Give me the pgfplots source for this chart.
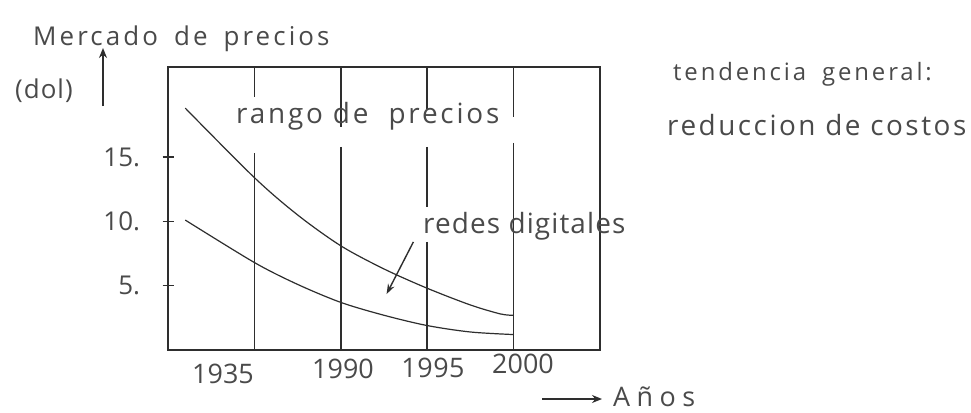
\documentclass[border=0pt]{standalone}
\usepackage{fontspec}
\setmainfont{Open Sans}
\usepackage{pgfplots}
\pgfplotsset{compat=1.18}
\usetikzlibrary{arrows.meta}
\definecolor{txt}{HTML}{4A4A4A}
\definecolor{ink}{HTML}{2E2E2E}
\newcommand{\fs}[2]{\fontsize{#1}{#1}\selectfont\addfontfeature{LetterSpace=#2}}
\begin{document}
\begin{tikzpicture}[x=1bp,y=1bp]
\useasboundingbox (0,0) rectangle (971,412);
\fill[white] (0,0) rectangle (971,412);
\begin{axis}[
  at={(168bp,62bp)}, anchor=origin,
  scale only axis, width=432bp, height=283bp,
  xmin=0, xmax=5, ymin=0, ymax=22,
  axis line style={ink, line width=1.6bp},
  xtick=\empty,
  ytick={5,10,15}, yticklabels={5.,10.,15.},
  ytick pos=left,
  tick align=center, major tick length=11bp,
  tick style={ink, line width=1.3bp},
  yticklabel style={font=\fs{26}{0}, text=txt, anchor=east, xshift=-19bp},
  clip=false,
  unbounded coords=jump,
]
% vertical year lines (broken where text crosses)
\addplot[ink, line width=1.6bp] coordinates {(1,22) (1,19.7) (nan,nan) (1,15.3) (1,0)};
\addplot[ink, line width=1.6bp] coordinates {(2,22) (2,17.3) (nan,nan) (2,15.8) (2,0)};
\addplot[ink, line width=1.6bp] coordinates {(3,22) (3,18.7) (nan,nan) (3,15.8) (3,11.1) (nan,nan) (3,8.4) (3,0)};
\addplot[ink, line width=1.6bp] coordinates {(4,22) (4,18.1) (nan,nan) (4,16.1) (4,0)};
% upper price curve
\addplot[ink, line width=1.2bp, smooth] coordinates {
 (0.2,18.8) (1,13.4) (1.5,10.5) (2,8.1) (2.5,6.3) (3,4.8) (3.5,3.5) (3.85,2.8) (4,2.7)};
% lower price curve
\addplot[ink, line width=1.2bp, smooth] coordinates {
 (0.2,10.1) (1,6.8) (1.5,5.1) (2,3.7) (2.5,2.7) (3,1.9) (3.5,1.4) (4,1.2)};
\draw[ink, line width=1.4bp, -{Stealth[length=10bp,width=7bp]}] (axis cs:2.84,8.4) -- (axis cs:2.53,4.35);
\end{axis}
% y axis title and arrow
\node[anchor=base west, inner sep=0, text=txt, font=\fs{26}{12}] at (33,367) {Mercado\hspace{16bp}de\hspace{16bp}precios};
\node[anchor=base west, inner sep=0, text=txt, font=\fs{26}{4}] at (15,314) {(dol)};
\draw[ink, line width=1.4bp, -{Stealth[length=10bp,width=8bp]}] (103,306) -- (103,364);
% in-plot labels
\node[anchor=base west, inner sep=0, text=txt, font=\fs{28}{10}] at (236,289) {rango de\hspace{10bp} precios};
\node[anchor=base west, inner sep=0, text=txt, font=\fs{28}{4}] at (423,179) {redes digitales};
% right annotation
\node[anchor=base west, inner sep=0, text=txt, font=\fs{24}{12}] at (673,332) {tendencia\hspace{16bp}general:};
\node[anchor=base west, inner sep=0, text=txt, font=\fs{28}{9}] at (667,277) {reduccion de costos};
% year labels
\node[anchor=base, inner sep=0, text=txt, font=\fs{27}{0}] at (223,29) {1935};
\node[anchor=base, inner sep=0, text=txt, font=\fs{27}{0}] at (343,34) {1990};
\node[anchor=base, inner sep=0, text=txt, font=\fs{27}{2}] at (433,35) {1995};
\node[anchor=base, inner sep=0, text=txt, font=\fs{27}{0}] at (523,39) {2000};
% x axis title
\draw[ink, line width=1.4bp, -{Stealth[length=10bp,width=8bp]}] (542,13) -- (602,13);
\node[anchor=base west, inner sep=0, text=txt, font=\fs{27}{24}] at (613,6) {Años};
\end{tikzpicture}
\end{document}
